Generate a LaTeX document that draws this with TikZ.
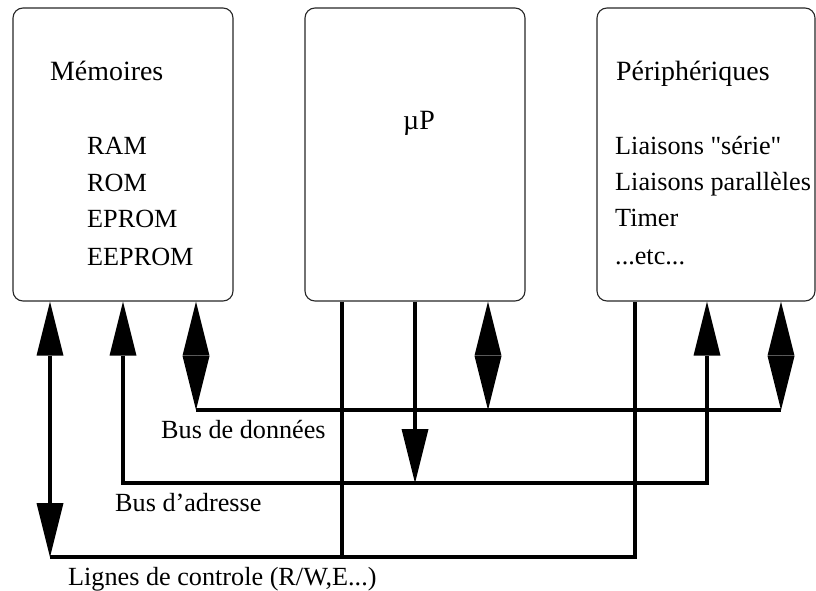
\documentclass[tikz,border=0pt]{standalone}
\usepackage{fontspec}
\setmainfont{Liberation Serif}[Ligatures=TeXOff]
\usetikzlibrary{arrows.meta}
\tikzset{unit/.style={draw=black!85,line width=1.1bp,rounded corners=10bp,
                      minimum width=220bp,minimum height=293bp,inner sep=0pt}}
\tikzset{title/.style={anchor=base west,inner sep=0pt,font=\fontsize{28}{32}\selectfont}}
\tikzset{item/.style={anchor=base west,inner sep=0pt,font=\fontsize{26.3}{30}\selectfont}}
\tikzset{bus/.style={line width=4bp,>={Triangle[width=27bp,length=54bp,line width=0pt]}}}

\begin{document}
\begin{tikzpicture}[x=1bp,y=-1bp]
    \useasboundingbox (0,0) rectangle (816,591);

    % Draw the three units
    \node[unit] (mem) at (123,154.5) {};
    \node[unit] (up) at (415,154.5) {};
    \node[unit,minimum width=218bp] (per) at (706,154.5) {};

    % Texts inside the units
    \node[title] (mem-t) at (50,81) {Mémoires};
    \foreach \name / \y in {RAM/155,ROM/192,EPROM/228,EEPROM/265}
        \node[item] (mem-\name) at (87,\y) {\name};
    \node[title] (up-t) at (403,130) {µP};
    \node[title] (per-t) at (616,81) {Périphériques};
    \foreach \txt / \y [count=\i] in {Liaisons "série"/155,Liaisons parallèles/191,Timer/227}
        \node[item] (per-\i) at (615,\y) {\txt};
    \node[item] (per-4) at (615,264) {...etc...};

    % Bus corners
    \coordinate (dL) at (196,410);
    \coordinate (dM) at (488,410);
    \coordinate (dR) at (781,410);
    \coordinate (aL) at (123,483);
    \coordinate (aM) at (415,483);
    \coordinate (aR) at (707,483);
    \coordinate (cL) at (50,557);
    \coordinate (cM) at (342,557);
    \coordinate (cR) at (635,557);

    % Data bus
    \draw[bus,<->] (mem.south -| dL) -- (dL);
    \draw[bus,<->] (up.south -| dM) -- (dM);
    \draw[bus,<->] (per.south -| dR) -- (dR);
    \draw[bus] (dL) -- (dR);

    % Address bus
    \draw[bus,<->] (mem.south -| aL) -- (aL) -- (aR) -- (per.south -| aR);
    \draw[bus,->] (up.south -| aM) -- (aM);

    % Control lines
    \draw[bus,<->] (mem.south -| cL) -- (cL);
    \draw[bus] (cL) -- (cR) -- (per.south -| cR);
    \draw[bus] (up.south -| cM) -- (cM);

    % Bus labels
    \node[item] (l-data) at (161,438) {Bus de données};
    \node[item] (l-addr) at (115,511) {Bus d’adresse};
    \node[item] (l-ctrl) at (68,585) {Lignes de controle (R/W,E...)};
\end{tikzpicture}
\end{document}
